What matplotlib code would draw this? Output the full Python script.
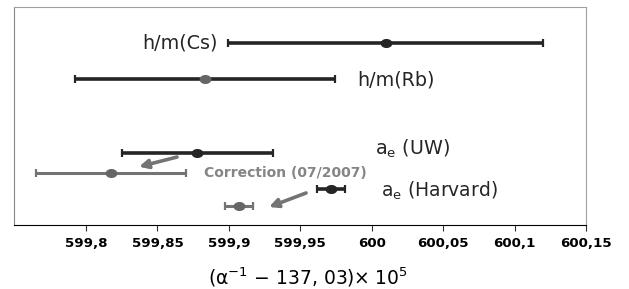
import numpy as np
import matplotlib
matplotlib.use("Agg")
import matplotlib.pyplot as plt
from matplotlib.path import Path

plt.rcParams["font.family"] = ["DejaVu Sans"]
plt.rcParams["mathtext.default"] = "regular"

# measurements: (alpha^-1 - 137.03) x 1e5
labels = ["h/m(Cs)", "h/m(Rb)", "a$_e$ (UW)", "UW corrected", "a$_e$ (Harvard)", "Harvard corrected"]
values = [600.0097, 599.8833, 599.878, 599.8175, 599.9715, 599.9071]
errors = [0.1105, 0.0907, 0.0528, 0.0525, 0.0095, 0.0095]
rows = [1.0, 2.0, 4.06, 4.61, 5.06, 5.53]
corrected = [False, False, False, True, False, True]
point_grey = [False, True, False, True, False, True]

xticks = [599.8, 599.85, 599.9, 599.95, 600.0, 600.05, 600.1, 600.15]
xticklabels = ["599,8", "599,85", "599,9", "599,95", "600", "600,05", "600,1", "600,15"]

DARK = "#252525"
GREY = "#747474"

# the original picture is a little stretched sideways, so are its dots
t = np.linspace(0, 2 * np.pi, 40)
ellipse = Path(np.c_[1.3 * np.cos(t), np.sin(t)], closed=True)

fig = plt.figure(figsize=(6.29, 2.89), dpi=100)
ax = fig.add_axes([0.0223, 0.2215, 0.9094, 0.754])

for v, e, r, corr, pg in zip(values, errors, rows, corrected, point_grey):
    line_col = GREY if corr else DARK
    mk_col = "#666666" if pg else DARK
    ax.errorbar(v, r, xerr=e, fmt="none", ecolor=line_col,
                elinewidth=2.6 if not corr else 2.2, capsize=2.6, capthick=1.6)
    ax.plot(v, r, linestyle="none", marker=ellipse, markersize=8.5,
            color=mk_col, markeredgewidth=0)

# labels next to the bars
ax.text(599.8924, 1.0, labels[0], ha="right", va="center", fontsize=13.8, color=DARK)
ax.text(599.9897, 2.03, labels[1], ha="left", va="center", fontsize=13.8, color=DARK)
ax.text(600.0023, 3.95, labels[2], ha="left", va="center", fontsize=13.8, color=DARK)
ax.text(600.0065, 5.12, labels[4], ha="left", va="center", fontsize=13.5, color=DARK)
ax.text(599.8826, 4.61, "Correction (07/2007)", ha="left", va="center",
        fontsize=10, fontweight="bold", color="#858585")

# correction arrows
arrow = dict(arrowstyle="-|>", color=GREY, lw=2.6, mutation_scale=13, shrinkA=0, shrinkB=0)
ax.annotate("", xy=(599.8371, 4.44), xytext=(599.8637, 4.17), arrowprops=arrow)
ax.annotate("", xy=(599.9281, 5.56), xytext=(599.954, 5.17), arrowprops=arrow)

ax.set_xlim(599.7496, 600.15)
ax.set_ylim(6.06, 0.0)
ax.set_yticks([])
ax.set_xticks(xticks)
ax.set_xticklabels(xticklabels, fontsize=9.6, fontweight="bold")
ax.tick_params(axis="x", length=4, width=0.8, color="#333333", pad=5)
ax.set_xlabel("(α$^{-1}$ − 137, 03)× 10$^5$", fontsize=13.5)
ax.xaxis.set_label_coords(0.514, -0.185)

for side in ["top", "right", "left"]:
    ax.spines[side].set_color("#a0a0a0")
ax.spines["left"].set_color("#888888")
ax.spines["bottom"].set_color("black")

fig.savefig("out.png", dpi=100)
plt.close(fig)
